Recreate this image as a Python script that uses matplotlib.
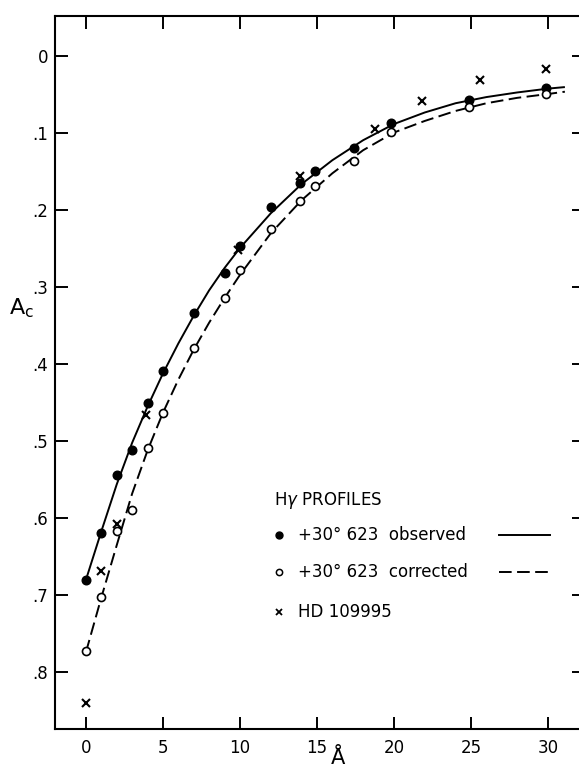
import matplotlib
matplotlib.use('Agg')
import matplotlib.pyplot as plt
from matplotlib.lines import Line2D

plt.rcParams['font.family'] = ['DejaVu Sans']

# observed profile of +30 623 (filled circles)
obs_x = [0, 1, 2, 3, 4, 5, 7, 9, 10, 12, 13.9, 14.9, 17.4, 19.8, 24.9, 29.9]
obs_y = [0.680, 0.619, 0.544, 0.511, 0.451, 0.409, 0.333, 0.282, 0.247, 0.196,
         0.164, 0.149, 0.119, 0.087, 0.057, 0.041]

# corrected profile (open circles)
cor_x = [0, 1, 2, 3, 4, 5, 7, 9, 10, 12, 13.9, 14.9, 17.4, 19.8, 24.9, 29.9]
cor_y = [0.772, 0.702, 0.617, 0.590, 0.509, 0.463, 0.379, 0.314, 0.277, 0.225,
         0.188, 0.168, 0.136, 0.098, 0.066, 0.049]

# HD 109995 (crosses)
hd_x = [0, 1, 2, 3.9, 9.9, 13.9, 18.8, 21.8, 25.6, 29.9]
hd_y = [0.840, 0.669, 0.607, 0.466, 0.252, 0.155, 0.094, 0.058, 0.031, 0.016]

# drawn curves
curve_x = [0, 1, 2, 3, 4, 5, 6, 7, 8, 9, 10, 12, 14, 16, 18, 20, 22, 24, 26, 28, 30, 31.1]
solid_y = [0.680, 0.617, 0.556, 0.502, 0.455, 0.412, 0.373, 0.337, 0.304, 0.275, 0.249,
           0.204, 0.166, 0.135, 0.109, 0.088, 0.073, 0.061, 0.053, 0.047, 0.042, 0.040]
dash_y = [0.774, 0.703, 0.635, 0.568, 0.512, 0.463, 0.420, 0.381, 0.346, 0.314, 0.284,
          0.230, 0.187, 0.152, 0.122, 0.099, 0.084, 0.071, 0.061, 0.054, 0.049, 0.046]

xticks = [0, 5, 10, 15, 20, 25, 30]
yticks = [0, 0.1, 0.2, 0.3, 0.4, 0.5, 0.6, 0.7, 0.8]
ytick_labels = ['0', '.1', '.2', '.3', '.4', '.5', '.6', '.7', '.8']

fig = plt.figure(figsize=(5.79, 7.74), dpi=100)
ax = fig.add_axes([0.095, 0.058, 0.9136, 0.921])

ax.plot(curve_x, solid_y, color='black', lw=1.4, solid_capstyle='butt')
ax.plot(curve_x, dash_y, color='black', lw=1.4, dashes=(6.5, 2.8))
ax.plot(obs_x, obs_y, 'o', color='black', ms=6.2, zorder=3)
ax.plot(cor_x, cor_y, 'o', mfc='white', mec='black', mew=1.2, ms=5.8, zorder=3)
ax.plot(hd_x, hd_y, 'x', color='black', mew=1.5, ms=5.5, zorder=3)

ax.set_xlim(-2.01, 32.34)
ax.set_ylim(0.874, -0.052)
ax.set_xticks(xticks)
ax.set_yticks(yticks)
ax.set_yticklabels(ytick_labels)

for s in ax.spines.values():
    s.set_linewidth(1.5)
ax.tick_params(direction='in', length=9, width=1.4, labelsize=12,
               top=True, right=True, pad=5)
ax.tick_params(axis='x', pad=7)

ax.set_xlabel('Å', fontsize=15)
ax.xaxis.set_label_coords(0.535, -0.027)
ax.set_ylabel('A$_{\\mathregular{c}}$', fontsize=16, rotation=0)
ax.yaxis.set_label_coords(-0.063, 0.574)

# legend block
t = ax.transAxes
ax.text(0.414, 0.321, 'H$\\gamma$ PROFILES', transform=t, fontsize=12, va='center')
rows = [0.272, 0.220, 0.164]
labels = ['+30° 623  observed', '+30° 623  corrected', 'HD 109995']
ax.add_line(Line2D([0.423], [rows[0]], transform=t, marker='o', color='black', ms=5))
ax.add_line(Line2D([0.423], [rows[1]], transform=t, marker='o', mfc='white',
                   mec='black', mew=1.1, ms=4.5))
ax.add_line(Line2D([0.423], [rows[2]], transform=t, marker='x', color='black',
                   mew=1.3, ms=4.5))
for y, lab in zip(rows, labels):
    ax.text(0.459, y, lab, transform=t, fontsize=12, va='center')
ax.add_line(Line2D([0.84, 0.935], [rows[0], rows[0]], transform=t, color='black', lw=1.4))
ax.add_line(Line2D([0.84, 0.935], [rows[1], rows[1]], transform=t, color='black', lw=1.4,
                   dashes=(6.5, 2.8)))

fig.savefig('out.png', dpi=100)
